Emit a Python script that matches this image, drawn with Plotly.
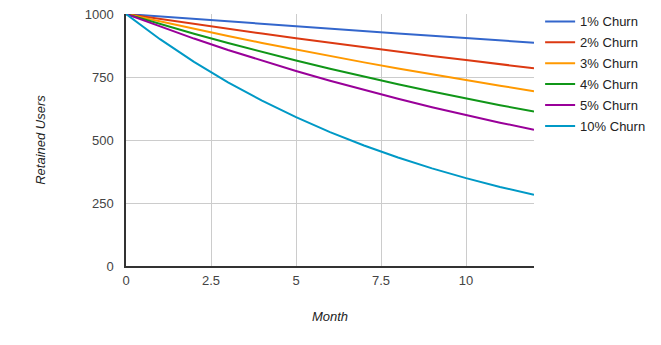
import plotly.graph_objects as go

months = list(range(13))
series_names = ["1% Churn", "2% Churn", "3% Churn", "4% Churn", "5% Churn", "10% Churn"]
churn_1 = [1000, 990, 980.1, 970.3, 960.6, 951.0, 941.5, 932.1, 922.7, 913.5, 904.4, 895.3, 886.4]
churn_2 = [1000, 980, 960.4, 941.2, 922.4, 903.9, 885.8, 868.1, 850.7, 833.7, 817.1, 800.7, 784.7]
churn_3 = [1000, 970, 940.9, 912.7, 885.3, 858.7, 833.0, 808.0, 783.7, 760.2, 737.4, 715.3, 693.8]
churn_4 = [1000, 960, 921.6, 884.7, 849.3, 815.4, 782.8, 751.5, 721.4, 692.5, 664.8, 638.2, 612.7]
churn_5 = [1000, 950, 902.5, 857.4, 814.5, 773.8, 735.1, 698.3, 663.4, 630.2, 598.7, 568.8, 540.4]
churn_10 = [1000, 900, 810, 729, 656.1, 590.5, 531.4, 478.3, 430.5, 387.4, 348.7, 313.8, 282.4]
x_ticks = [0, 2.5, 5, 7.5, 10]
y_ticks = [0, 250, 500, 750, 1000]

colors = ["#3366cc", "#dc3912", "#ff9900", "#109618", "#990099", "#0099c6"]
all_series = [churn_1, churn_2, churn_3, churn_4, churn_5, churn_10]

fig = go.Figure()
for name, vals, col in zip(series_names, all_series, colors):
    fig.add_trace(go.Scatter(x=months, y=vals, name=name, mode="lines",
                             line=dict(color=col, width=2), legendgroup=name))

font = "Liberation Sans, Arial, sans-serif"
fig.update_layout(
    width=661, height=345,
    margin=dict(l=126, r=127, t=14, b=79, autoexpand=False),
    paper_bgcolor="white", plot_bgcolor="white",
    font=dict(family=font, size=13, color="#444"),
    showlegend=True,
    legend=dict(x=1.015, y=1.03, xanchor="left", yanchor="top",
                font=dict(size=13, color="#222"), tracegroupgap=1,
                itemwidth=30, bgcolor="rgba(0,0,0,0)"),
    xaxis=dict(range=[0, 12], tickvals=x_ticks, ticktext=["0", "2.5", "5", "7.5", "10"],
               showgrid=True, gridcolor="#cccccc", gridwidth=1, automargin=False,
               showline=True, linecolor="#333333", linewidth=1.5, zeroline=False,
               ticks="outside", ticklen=2, tickcolor="rgba(0,0,0,0)",
               tickfont=dict(size=13, color="#444"),
               title=dict(text="<i>Month</i>", font=dict(size=13, color="#222"), standoff=25)),
    yaxis=dict(range=[0, 1000], tickvals=y_ticks,
               showgrid=True, gridcolor="#cccccc", gridwidth=1, automargin=False,
               showline=True, linecolor="#333333", linewidth=1.5, zeroline=False,
               ticks="outside", ticklen=8, tickcolor="rgba(0,0,0,0)",
               tickfont=dict(size=13, color="#444"),
               title=dict(text="<i>Retained Users</i>", font=dict(size=13, color="#222"), standoff=36)),
)
fig.write_html("out.html")
